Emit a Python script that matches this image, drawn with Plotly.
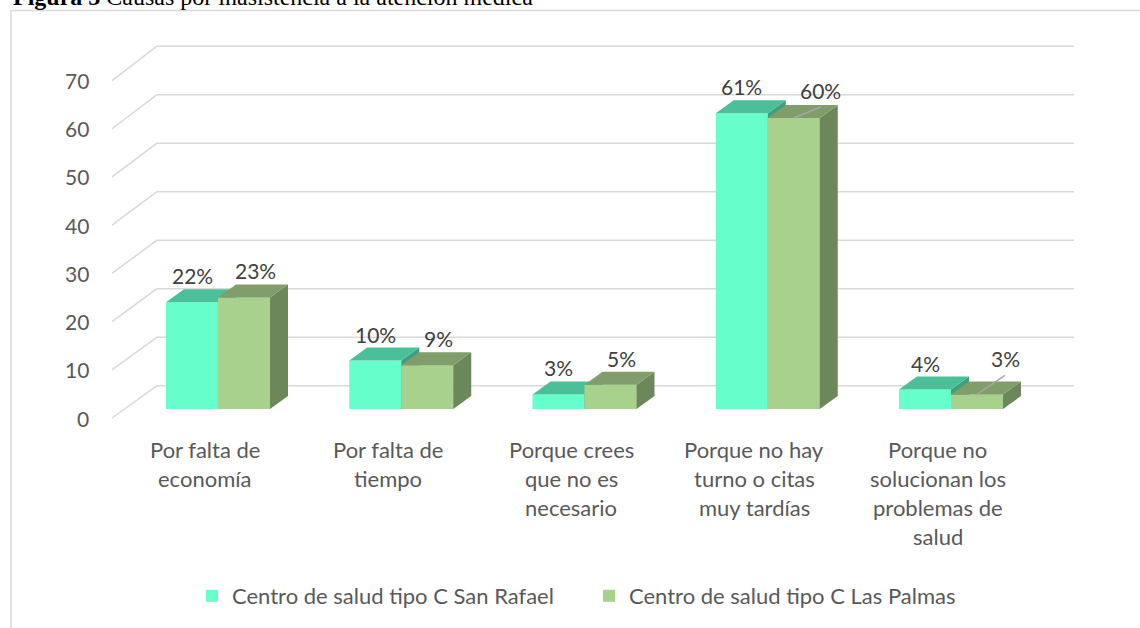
import plotly.graph_objects as go

# ---------------- data ----------------
categories = [
    "Por falta de<br>economía",
    "Por falta de<br>tiempo",
    "Porque crees<br>que no es<br>necesario",
    "Porque no hay<br>turno o citas<br>muy tardías",
    "Porque no<br>solucionan los<br>problemas de<br>salud",
]
series_names = ["Centro de salud tipo C San Rafael", "Centro de salud tipo C Las Palmas"]
san_rafael = [22, 10, 3, 61, 4]
las_palmas = [23, 9, 5, 60, 3]
y_ticks = [0, 10, 20, 30, 40, 50, 60, 70]
title_bold = "Figura 3"
title_rest = " Causas por inasistencia a la atención médica"

# ---------------- geometry / style ----------------
W, H = 1140, 628
CAT0_PX = 218.0      # pixel x of first category centre
CAT_PX = 183.25      # pixels per category
BASE_PX = 409.0      # pixel y of bar base
UNIT_PX = 4.85       # pixels per value unit

def dx(p):
    return p / CAT_PX

def dy(p):
    return p / UNIT_PX

def px2x(p):
    return (p - CAT0_PX) / CAT_PX

def py2y(p):
    return (BASE_PX - p) / UNIT_PX

BAR_W = dx(52)
DEP_X, DEP_Y = dx(18), dy(13)          # bar depth (oblique)
FRONT_LEFT, BACK_LEFT, BACK_RIGHT = px2x(112), px2x(157), px2x(1074)
FRONT_Y0, BACK_Y0 = py2y(418), py2y(385.7)
FRONT_SCALE = 0.994

FONT = "Lato"
GRID = "#d9d9d9"
TXT = "#595959"
LBL = "#404040"
colors = [
    {"front": "#66FFCC", "top": "#4BBF99", "side": "#3E9F7F"},
    {"front": "#A9D18E", "top": "#809D6B", "side": "#6C885A"},
]
series = [san_rafael, las_palmas]

fig = go.Figure()

# front faces as real bars
for s, vals in enumerate(series):
    fig.add_trace(go.Bar(
        x=list(range(len(categories))), y=vals, width=BAR_W,
        offset=-BAR_W if s == 0 else 0,
        marker=dict(color=colors[s]["front"], line=dict(width=0)),
        name=series_names[s], hoverinfo="skip",
    ))

def poly_trace(polys, color):
    xs, ys = [], []
    for p in polys:
        for (a, b) in p + [p[0]]:
            xs.append(a); ys.append(b)
        xs.append(None); ys.append(None)
    return go.Scatter(x=xs, y=ys, mode="lines", fill="toself", fillcolor=color,
                      line=dict(width=0, color=color), showlegend=False,
                      hoverinfo="skip")

def faces(xl, xr, v):
    top = [(xl, v), (xr, v), (xr + DEP_X, v + DEP_Y), (xl + DEP_X, v + DEP_Y)]
    side = [(xr, 0), (xr + DEP_X, DEP_Y), (xr + DEP_X, v + DEP_Y), (xr, v)]
    front = [(xl, 0), (xr, 0), (xr, v), (xl, v)]
    return top, side, front

sr_side, sr_top, lp_front, lp_side, lp_top = [], [], [], [], []
for i in range(len(categories)):
    t, sd, f = faces(i - BAR_W, i, san_rafael[i])
    sr_side.append(sd); sr_top.append(t)
    t, sd, f = faces(i, i + BAR_W, las_palmas[i])
    lp_front.append(f); lp_side.append(sd); lp_top.append(t)

fig.add_trace(poly_trace(sr_side, colors[0]["side"]))
fig.add_trace(poly_trace(sr_top, colors[0]["top"]))
fig.add_trace(poly_trace(lp_front, colors[1]["front"]))
fig.add_trace(poly_trace(lp_side, colors[1]["side"]))
fig.add_trace(poly_trace(lp_top, colors[1]["top"]))

shapes = []
annotations = []
# gridlines on back wall and side wall
for t in y_ticks:
    yb = BACK_Y0 + t
    yf = FRONT_Y0 + t * FRONT_SCALE
    shapes.append(dict(type="line", xref="x", yref="y", x0=BACK_LEFT, x1=BACK_RIGHT,
                       y0=yb, y1=yb, line=dict(color=GRID, width=1.5), layer="below"))
    shapes.append(dict(type="line", xref="x", yref="y", x0=FRONT_LEFT, x1=BACK_LEFT,
                       y0=yf, y1=yb, line=dict(color=GRID, width=1.5), layer="below"))
    annotations.append(dict(x=px2x(91), y=yf, xref="x", yref="y", text=str(t),
                            showarrow=False, xanchor="right", yanchor="middle",
                            font=dict(family=FONT, size=21, color=TXT)))

# category labels (one annotation per line)
LINE_PX = 29
for i, c in enumerate(categories):
    for k, line in enumerate(c.split("<br>")):
        annotations.append(dict(x=i + dx(-13.5), y=py2y(449 + LINE_PX * k), xref="x", yref="y",
                                text=line, showarrow=False, xanchor="center", yanchor="middle",
                                font=dict(family=FONT, size=22, color=TXT)))

# data labels
label_nudge = {(1, 3): (16, 1), (1, 4): (17, 9)}   # (series, category): extra px right, up
for s, vals in enumerate(series):
    for i, v in enumerate(vals):
        cx = i - BAR_W / 2 if s == 0 else i + BAR_W / 2 + dx(11)
        ex, ey = label_nudge.get((s, i), (0, 0))
        lx = cx + dx(ex)
        base = v + DEP_Y + dy(5 + ey)          # text baseline
        annotations.append(dict(x=lx, y=base - dy(6), xref="x", yref="y", text=f"{v}%",
                                showarrow=False, xanchor="center", yanchor="bottom",
                                font=dict(family=FONT, size=21, color=LBL)))
        if (s, i) in label_nudge:
            fx = i + BAR_W / 2
            shapes.append(dict(type="line", xref="x", yref="y", x0=fx, y0=v,
                               x1=lx, y1=base - dy(8), line=dict(color="#a6a6a6", width=1.5)))

# chart border (top + left edge visible)
shapes.append(dict(type="line", xref="paper", yref="paper", x0=11 / W, x1=1.0,
                   y0=1 - 10.5 / H, y1=1 - 10.5 / H, line=dict(color=GRID, width=1.5)))
shapes.append(dict(type="line", xref="paper", yref="paper", x0=11 / W, x1=11 / W,
                   y0=0, y1=1 - 10.5 / H, line=dict(color=GRID, width=1.5)))

# title (cut at top as in the source)
annotations.append(dict(x=11 / W, y=1 - 12 / H, xref="paper", yref="paper",
                        text=f"<b>{title_bold}</b>{title_rest}", showarrow=False,
                        xanchor="left", yanchor="bottom",
                        font=dict(family="Liberation Serif", size=24, color="black")))

fig.update_layout(
    width=W, height=H, margin=dict(l=0, r=0, t=0, b=0),
    paper_bgcolor="white", plot_bgcolor="white",
    barmode="overlay", hovermode=False,
    xaxis=dict(range=[px2x(0), px2x(W)], visible=False, fixedrange=True),
    yaxis=dict(range=[py2y(H), py2y(0)], visible=False, fixedrange=True),
    shapes=shapes, annotations=annotations,
    legend=dict(orientation="h", x=192 / W, xanchor="left", y=1 - 596 / H, yanchor="middle",
                font=dict(family=FONT, size=22, color=TXT), entrywidth=352,
                entrywidthmode="pixels", bgcolor="rgba(0,0,0,0)"),
    showlegend=True,
)

fig.write_html("out.html", config={"displayModeBar": False},
               post_script="document.body.style.margin='0';document.body.style.overflow='hidden';")
